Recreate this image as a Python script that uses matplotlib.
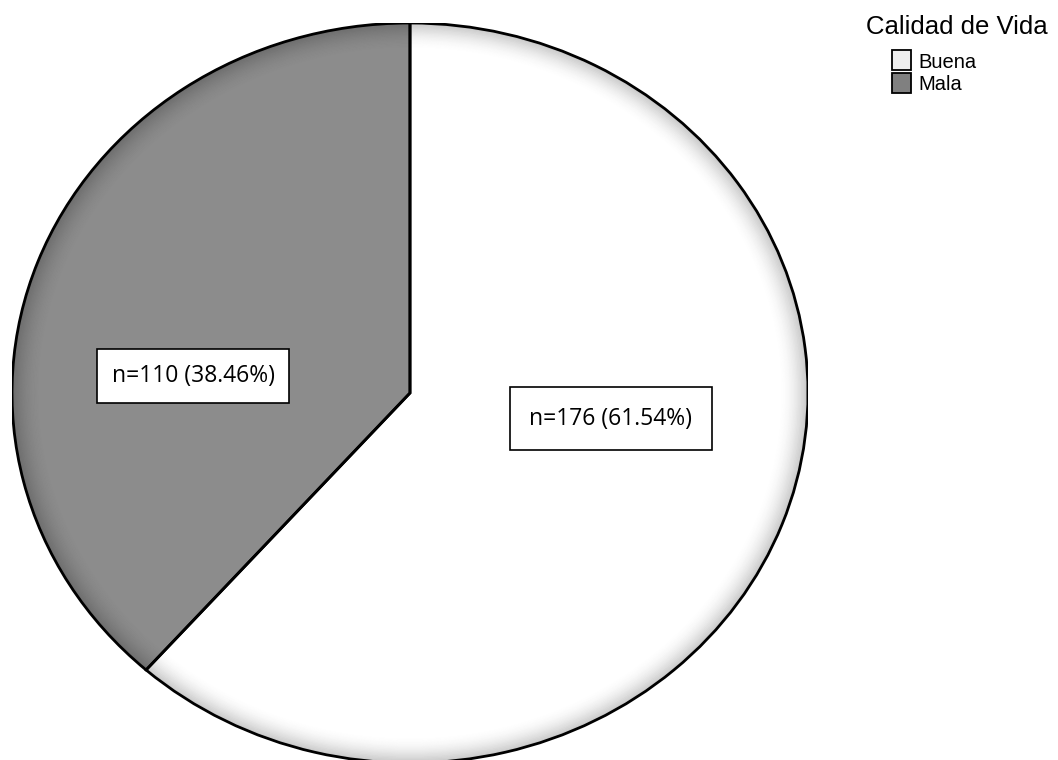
import numpy as np
import matplotlib
matplotlib.use("Agg")
import matplotlib.pyplot as plt
from matplotlib.patches import Wedge, Rectangle

# data
categories = ["Buena", "Mala"]
counts = [176, 110]
colors = ["#ffffff", "#8c8c8c"]
legend_colors = ["#eeeeee", "#808080"]
legend_title = "Calidad de Vida"
label_pos = [(0.505, -0.070), (-0.545, 0.046)]
label_pad = [0.85, 0.65]

total = sum(counts)
labels = [f"n={c} ({c / total * 100:.2f}%)" for c in counts]

fig = plt.figure(figsize=(10.58, 7.6), dpi=100)
ax = fig.add_axes([12 / 1058, -3 / 760, 796 / 1058, 740 / 760])

wedges, _ = ax.pie(counts, colors=colors, startangle=90, counterclock=False,
                   radius=1.0, wedgeprops=dict(linewidth=0))

# bevel shading near the rim
n_rings = 20
dr = 0.0035
for w in wedges:
    for k in range(n_rings):
        r = 1.0 - k * dr
        a = 0.22 * (1 - k / n_rings) ** 1.8
        ax.add_patch(Wedge((0, 0), r, w.theta1, w.theta2, width=dr,
                           facecolor="black", alpha=a, linewidth=0))

# outlines
for w in wedges:
    ax.add_patch(Wedge((0, 0), 1.0, w.theta1, w.theta2, facecolor="none",
                       edgecolor="black", linewidth=2.0))

for (x, y), lab, pad in zip(label_pos, labels, label_pad):
    ax.text(x, y, lab, ha="center", va="center", fontsize=16.5,
            family="Open Sans",
            bbox=dict(boxstyle=f"square,pad={pad}", facecolor="white",
                      edgecolor="black", linewidth=1.2))

ax.set_xlim(-1, 1)
ax.set_ylim(-1, 1)
ax.set_aspect("auto")
ax.axis("off")

# legend
fig.text(866 / 1058, 1 - 27 / 760, legend_title, ha="left", va="center",
         fontsize=18.5, family="Liberation Sans")
for i, (cat, col) in enumerate(zip(categories, legend_colors)):
    top = 50 + i * 23
    fig.add_artist(Rectangle((892 / 1058, 1 - (top + 20) / 760), 19 / 1058, 20 / 760,
                             transform=fig.transFigure, facecolor=col,
                             edgecolor="black", linewidth=1.3))
    fig.text(918 / 1058, 1 - (top + 12) / 760, cat, ha="left", va="center",
             fontsize=14.5, family="Liberation Sans")

fig.savefig("out.png", dpi=100)
